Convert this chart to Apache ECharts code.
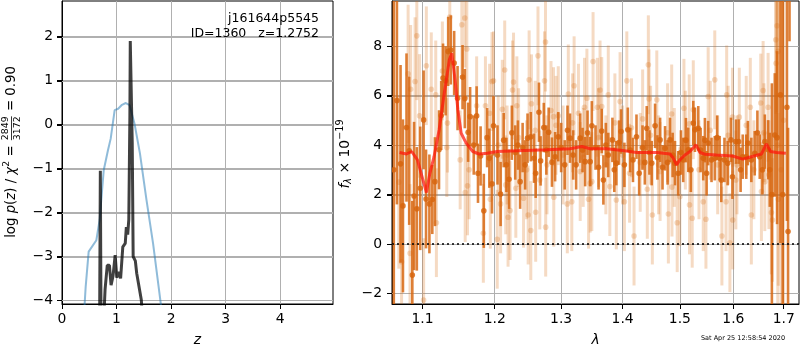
<!DOCTYPE html>
<html>
<head>
<meta charset="utf-8">
<script src="https://cdn.jsdelivr.net/npm/echarts@6/dist/echarts.min.js"></script>
<style>
  html, body { margin: 0; padding: 0; background: #fff; }
  #chart { width: 800px; height: 350px; }
</style>
</head>
<body>
<div id="chart"></div>
<script>
// left panel: log p(z)
const pzBlue = [
  [0.395, -4.5], [0.434, -3.69], [0.489, -2.89], [0.63, -2.63], [0.69, -2.17], [0.765, -1.04],
  [0.844, -0.58], [0.893, -0.32], [0.966, 0.33], [1.03, 0.36], [1.10, 0.45], [1.17, 0.49],
  [1.24, 0.44], [1.33, 0.02], [1.43, -0.66], [1.55, -1.72], [1.67, -2.70], [1.83, -4.25]
];
const pzBlack = [
  [0.690, -4.5], [0.703, -1.05], [0.716, -4.5], [0.77, -4.3], [0.79, -3.75], [0.83, -3.2],
  [0.87, -3.2], [0.90, -3.65], [0.935, -3.45], [0.975, -2.97], [1.005, -3.48], [1.045, -3.35],
  [1.075, -3.5], [1.115, -2.78], [1.16, -2.7], [1.18, -2.33], [1.205, -2.5], [1.225, -2.16],
  [1.245, 0.2], [1.252, 1.9], [1.268, 1.9], [1.288, -0.4], [1.305, -3.0], [1.345, -3.1],
  [1.37, -3.38], [1.395, -3.35], [1.455, -3.99], [1.48, -4.5]
];
const zTicks = [0, 1, 2, 3, 4];
const logpTicks = [-4, -3, -2, -1, 0, 1, 2];

// right panel: spectrum [lambda, flux, err]
const specDark = [
  [1.0625, 3.0, 10], [1.0665, 5.8, 4.2], [1.0712, 3.24, 4.0], [1.0743, 1.54, 3.5], [1.0789, 4.71, 3.0],
  [1.0824, 3.77, 3.0], [1.0865, -1.26, 3.0], [1.0888, 1.94, 3.0], [1.0924, 1.42, 2.5], [1.0969, 2.25, 2.5],
  [1.1014, 5.02, 2.0], [1.1046, 1.82, 2.0], [1.1091, 1.62, 2.0], [1.1130, 1.8, 1.4], [1.1165, 2.52, 1.8],
  [1.1220, 3.81, 1.6], [1.1250, 5.2, 1.4], [1.1275, 6.71, 1.4], [1.1310, 6.6, 1.4], [1.1345, 7.79, 1.4],
  [1.1381, 7.85, 1.4], [1.1427, 7.32, 1.3], [1.1474, 5.90, 1.3], [1.1543, 6.75, 1.3], [1.1575, 5.88, 1.2],
  [1.1621, 4.52, 1.2], [1.1649, 5.15, 1.2], [1.1700, 4.0, 1.2], [1.1741, 5.18, 1.2], [1.1760, 2.86, 1.2],
  [1.1797, 3.56, 1.2], [1.1843, 1.34, 1.5], [1.1890, 4.30, 1.2], [1.1922, 3.47, 1.2], [1.1960, 2.43, 1.2],
  [1.1982, 4.78, 1.2], [1.2040, 3.6, 1.2], [1.2085, 2.02, 1.3], [1.2130, 4.2, 1.1], [1.2170, 3.2, 1.1],
  [1.2209, 2.62, 1.2], [1.2250, 4.5, 1.1], [1.2300, 3.7, 1.1], [1.2340, 4.0, 1.0], [1.2373, 2.52, 1.1],
  [1.2410, 3.9, 1.0], [1.2448, 3.20, 1.0], [1.2484, 4.28, 1.0], [1.2533, 4.34, 1.0], [1.2582, 3.47, 1.0],
  [1.2607, 2.86, 1.0], [1.2657, 5.33, 1.2], [1.2682, 3.36, 1.0], [1.2731, 4.71, 1.0], [1.2770, 3.8, 1.0],
  [1.2806, 4.52, 1.0], [1.2857, 3.31, 1.0], [1.2906, 3.53, 1.0], [1.2955, 4.34, 1.0], [1.3000, 3.9, 1.0],
  [1.3056, 3.20, 1.0], [1.3100, 4.6, 1.0], [1.3140, 4.28, 1.0], [1.3190, 3.6, 1.0], [1.3237, 3.20, 1.0],
  [1.3302, 4.28, 1.0], [1.3340, 3.8, 0.9], [1.3382, 3.33, 1.0], [1.3420, 4.5, 0.9], [1.3463, 3.33, 1.0],
  [1.3490, 4.78, 1.0], [1.3550, 3.9, 0.9], [1.3600, 3.1, 0.9], [1.3652, 4.57, 0.9], [1.3679, 2.59, 1.0],
  [1.3720, 4.0, 0.9], [1.3760, 3.60, 0.9], [1.3829, 4.21, 0.9], [1.3860, 3.0, 0.9], [1.3894, 3.27, 0.9],
  [1.3940, 4.1, 0.9], [1.3974, 4.55, 0.9], [1.4030, 3.20, 0.9], [1.4088, 4.62, 0.9], [1.4130, 3.8, 0.9],
  [1.4176, 3.40, 0.9], [1.4236, 4.34, 0.9], [1.4282, 2.86, 0.9], [1.4340, 3.9, 0.9], [1.4380, 3.3, 0.9],
  [1.4413, 4.68, 0.9], [1.4460, 3.7, 0.9], [1.4500, 3.27, 0.9], [1.4559, 4.78, 0.9], [1.4600, 3.5, 0.9],
  [1.4647, 4.21, 0.9], [1.4690, 3.1, 0.9], [1.4735, 3.87, 0.9], [1.4780, 3.3, 0.9], [1.4824, 4.21, 0.9],
  [1.4870, 3.6, 0.9], [1.4912, 3.27, 0.9], [1.4970, 2.86, 0.9], [1.5020, 3.7, 0.9], [1.5061, 3.40, 0.9],
  [1.5110, 4.2, 0.9], [1.5153, 3.81, 0.9], [1.5200, 3.0, 0.9], [1.5245, 4.89, 0.9], [1.5276, 4.62, 0.9],
  [1.5337, 4.68, 0.9], [1.5380, 3.8, 0.9], [1.5429, 3.47, 0.9], [1.5460, 4.2, 0.9], [1.5492, 2.86, 0.9],
  [1.5521, 4.08, 0.9], [1.5584, 3.40, 0.9], [1.5645, 3.47, 0.9], [1.5690, 4.3, 0.9], [1.5737, 3.47, 0.9],
  [1.5768, 2.59, 0.9], [1.5829, 3.40, 0.9], [1.5890, 3.27, 0.9], [1.5952, 4.21, 0.9], [1.5982, 2.72, 0.9],
  [1.6048, 4.14, 0.9], [1.6101, 4.14, 0.9], [1.6140, 3.0, 0.9], [1.6181, 3.53, 0.9], [1.6250, 3.53, 0.9],
  [1.6282, 4.08, 0.9], [1.6350, 3.40, 0.9], [1.6417, 3.67, 0.9], [1.6470, 4.5, 0.9], [1.6517, 3.53, 0.9],
  [1.6570, 3.0, 1.0], [1.6618, 4.14, 1.1], [1.6684, 3.81, 1.2], [1.6718, 3.00, 1.5], [1.6760, 2.0, 4.5],
  [1.6819, 4.41, 2.5], [1.6865, 4.3, 3.5], [1.6934, 6.03, 6.0], [1.6980, 2.0, 8.0], [1.7067, 5.53, 4.6],
  [1.7090, 0.5, 4.2], [1.7120, 12.0, 3.8]
];
const specLight = [
  [1.0690, 2.5, 3.5], [1.0725, -0.72, 2.8], [1.0810, 6.88, 2.8], [1.0835, -0.38, 2.8], [1.0843, 6.26, 2.6],
  [1.0901, 6.57, 2.6], [1.0924, 8.42, 2.6], [1.0960, 5.18, 2.5], [1.1014, -2.27, 2.5], [1.1050, 7.21, 2.4],
  [1.1116, 6.26, 2.3], [1.1176, 6.03, 2.2], [1.1185, 0.86, 2.2], [1.1266, 7.00, 2.0], [1.1326, 3.90, 2.0],
  [1.1335, 4.89, 2.0], [1.1367, 9.18, 2.0], [1.1510, 3.40, 2.0], [1.1533, 8.87, 2.0], [1.1575, 9.14, 2.0],
  [1.1580, 2.08, 2.0], [1.1603, 7.89, 2.0], [1.1612, 2.35, 2.0], [1.1635, 3.00, 2.0], [1.1741, 5.59, 2.0],
  [1.1836, 0.43, 2.0], [1.1866, 5.59, 2.0], [1.1926, 5.29, 2.0], [1.1936, 1.81, 2.0], [1.1960, 6.57, 2.0],
  [1.1982, 6.60, 2.0], [1.2036, 0.19, 2.0], [1.2050, 4.0, 2.0], [1.2085, 1.62, 2.0], [1.2110, 5.45, 2.0],
  [1.2145, 7.04, 2.0], [1.2160, 2.39, 2.0], [1.2180, 3.6, 2.0], [1.2194, 1.08, 2.0], [1.2224, 1.35, 2.0],
  [1.2260, 6.23, 2.0], [1.2275, 6.55, 2.0], [1.2309, 2.25, 2.0], [1.2324, 5.59, 2.0], [1.2350, 4.3, 2.0],
  [1.2424, 1.85, 2.0], [1.2470, 3.0, 2.0], [1.2493, 1.17, 2.0], [1.2508, 6.64, 2.0], [1.2533, 0.54, 2.0],
  [1.2543, 5.67, 2.0], [1.2600, 4.6, 2.0], [1.2607, 1.28, 2.0], [1.2642, 7.61, 2.0], [1.2670, 2.59, 2.0],
  [1.2742, 6.60, 2.0], [1.2757, 8.17, 2.0], [1.2760, 0.68, 2.0], [1.2780, 3.2, 2.0], [1.2842, 5.40, 2.0],
  [1.2881, 5.15, 2.0], [1.2885, 1.89, 2.0], [1.2920, 4.8, 2.0], [1.2955, 5.19, 2.0], [1.3030, 3.6, 2.0],
  [1.3097, 1.62, 2.0], [1.3113, 6.07, 2.0], [1.3168, 1.71, 2.0], [1.3180, 4.9, 2.0], [1.3205, 6.40, 2.0],
  [1.3274, 5.29, 2.0], [1.3302, 2.93, 2.0], [1.3350, 3.5, 2.0], [1.3371, 5.53, 2.0], [1.3410, 5.90, 2.0],
  [1.3437, 1.81, 2.0], [1.3463, 2.46, 2.0], [1.3490, 2.52, 2.0], [1.3510, 7.38, 2.0], [1.3580, 5.53, 2.0],
  [1.3600, 4.3, 2.0], [1.3624, 6.23, 2.0], [1.3652, 5.56, 2.0], [1.3720, 3.2, 2.0], [1.3760, 6.03, 2.0],
  [1.3786, 2.32, 2.0], [1.3870, 4.9, 2.0], [1.3894, 1.78, 2.0], [1.3957, 5.76, 2.0], [1.4000, 3.6, 2.0],
  [1.4030, 1.71, 2.0], [1.4071, 6.60, 2.0], [1.4118, 2.86, 2.0], [1.4150, 4.7, 2.0], [1.4194, 0.32, 2.0],
  [1.4300, 3.3, 2.0], [1.4342, 5.06, 2.0], [1.4423, 2.21, 2.0], [1.4441, 7.25, 2.0], [1.4453, 5.87, 2.0],
  [1.4480, 4.4, 2.0], [1.4511, 1.17, 2.0], [1.4589, 5.83, 2.0], [1.4620, 3.2, 2.0], [1.4647, 2.93, 2.0],
  [1.4780, 4.5, 2.0], [1.4794, 1.21, 2.0], [1.4853, 5.26, 2.0], [1.4858, 2.30, 2.0], [1.4900, 3.5, 2.0],
  [1.4952, 0.86, 2.0], [1.5000, 1.91, 2.0], [1.5074, 5.49, 2.0], [1.5100, 4.2, 2.0], [1.5171, 4.86, 2.0],
  [1.5176, 1.58, 2.0], [1.5225, 1.04, 2.0], [1.5245, 5.43, 2.0], [1.5350, 3.0, 2.0], [1.5429, 1.71, 2.0],
  [1.5479, 1.00, 2.0], [1.5521, 5.96, 2.0], [1.5560, 4.6, 2.0], [1.5645, 6.64, 2.0], [1.5700, 3.2, 2.0],
  [1.5780, 0.32, 2.0], [1.5859, 1.71, 2.0], [1.5871, 6.03, 2.0], [1.5900, 4.4, 2.0], [1.5933, 0.05, 2.0],
  [1.5982, 5.13, 2.0], [1.5988, 0.97, 2.0], [1.6048, 2.59, 2.0], [1.6070, 3.2, 2.0], [1.6115, 5.13, 2.0],
  [1.6250, 4.8, 2.0], [1.6330, 5.53, 2.0], [1.6350, 1.17, 2.0], [1.6400, 3.0, 2.0], [1.6537, 5.70, 2.0],
  [1.6550, 2.12, 2.0], [1.6584, 6.21, 2.0], [1.6600, 4.5, 2.0], [1.6618, 2.52, 2.0], [1.6684, 5.53, 2.2],
  [1.6700, 2.8, 2.2], [1.6751, 1.27, 2.5], [1.6771, 0.97, 2.5], [1.6839, 8.26, 3.0], [1.6845, 7.31, 3.0],
  [1.6865, 8.83, 3.5], [1.6885, 7.79, 3.5], [1.6890, 1.81, 3.5], [1.6880, 4.0, 9], [1.6950, 3.0, 9],
  [1.7000, 5.0, 8]
];
const modelFlux = [
  [1.0699, 3.70], [1.0789, 3.64], [1.0857, 3.74], [1.0932, 3.40], [1.1005, 2.59], [1.1051, 2.08],
  [1.1097, 2.86], [1.1153, 3.53], [1.1222, 4.62], [1.1292, 6.10], [1.1361, 7.45], [1.1394, 7.72],
  [1.1440, 6.64], [1.1478, 5.43], [1.1524, 4.48], [1.1594, 4.08], [1.1686, 3.74], [1.1778, 3.64],
  [1.1890, 3.67], [1.2036, 3.74], [1.2334, 3.77], [1.2782, 3.81], [1.3140, 3.85], [1.3329, 3.94],
  [1.3463, 3.85], [1.3731, 3.85], [1.4000, 3.78], [1.4236, 3.70], [1.4589, 3.70], [1.4824, 3.64],
  [1.4882, 3.47], [1.4940, 3.20], [1.5000, 3.40], [1.5092, 3.60], [1.5184, 3.74], [1.5295, 4.01],
  [1.5368, 3.70], [1.5460, 3.63], [1.5676, 3.60], [1.5982, 3.56], [1.6181, 3.43], [1.6316, 3.51],
  [1.6550, 3.64], [1.6651, 4.05], [1.6732, 3.74], [1.6853, 3.70], [1.7045, 3.67]
];
const lamTicks = [1.1, 1.2, 1.3, 1.4, 1.5, 1.6, 1.7];
const fluxTicks = [-2, 0, 2, 4, 6, 8];

const FONT = 'DejaVu Sans';
const Y2MIN = -2.43, Y2MAX = 9.83;
const minus = v => (v < 0 ? '\u2212' + (-v) : String(v));

const ctx = document.createElement('canvas').getContext('2d');
function tw(s, size, it) {
  ctx.font = (it ? 'italic ' : '') + size + 'px "' + FONT + '"';
  return ctx.measureText(s).width;
}
// rotated mathtext-like label
function mathLabel(id, cx, cy, base, parts) {
  let w = 0;
  parts.forEach(p => {
    p.size = p.size || base;
    p.w = p.frac ? Math.max(tw(p.num, p.size), tw(p.den, p.size)) + 2 : tw(p.t, p.size, p.it);
    w += p.w;
  });
  let x = -w / 2;
  const kids = [];
  const ts = (text, p, extra) => Object.assign({
    text: text, fontSize: p.size, fontFamily: FONT, fontStyle: p.it ? 'italic' : 'normal',
    fill: '#000', verticalAlign: 'middle', textVerticalAlign: 'middle'
  }, extra);
  parts.forEach(p => {
    if (p.frac) {
      const mid = x + p.w / 2;
      kids.push({ type: 'text', x: mid, y: -6, style: ts(p.num, p, { align: 'center', textAlign: 'center' }) });
      kids.push({ type: 'text', x: mid, y: 5.5, style: ts(p.den, p, { align: 'center', textAlign: 'center' }) });
      kids.push({ type: 'line', shape: { x1: x + 1, y1: -0.5, x2: x + p.w - 1, y2: -0.5 }, style: { stroke: '#000', lineWidth: 0.8 } });
    } else {
      kids.push({ type: 'text', x: x, y: p.dy || 0, style: ts(p.t, p, { align: 'left', textAlign: 'left' }) });
    }
    x += p.w;
  });
  return { type: 'group', id: id, x: cx, y: cy, rotation: Math.PI / 2, children: kids };
}

function errRender(color, lw, r) {
  return function (params, api) {
    const x = api.value(0), f = api.value(1), e = api.value(2);
    const lo = Math.max(f - e, Y2MIN), hi = Math.min(f + e, Y2MAX);
    const kids = [];
    if (hi > lo) {
      const p0 = api.coord([x, lo]), p1 = api.coord([x, hi]);
      kids.push({ type: 'line', shape: { x1: p0[0], y1: p0[1], x2: p1[0], y2: p1[1] }, style: { stroke: color, lineWidth: lw } });
    }
    if (f >= Y2MIN && f <= Y2MAX) {
      const c = api.coord([x, f]);
      kids.push({ type: 'circle', shape: { cx: c[0], cy: c[1], r: r }, style: { fill: color } });
    }
    return { type: 'group', children: kids };
  };
}
// one horizontal grid line per tick value, placed with the axis scale
function gridRender(params, api) {
  const cs = params.coordSys;
  const y = Math.round(api.coord([api.value(0), api.value(1)])[1]) + 0.5;
  return { type: 'line', shape: { x1: cs.x, y1: y, x2: cs.x + cs.width, y2: y },
    style: { stroke: '#b0b0b0', lineWidth: 1 } };
}
const toLog = arr => arr.map(d => [Math.log(d[0]), d[1], d[2]]);

const axisCommon = {
  axisLine: { show: true, onZero: false, lineStyle: { color: '#000', width: 1 } },
  axisTick: { show: true, inside: false, length: 5, lineStyle: { color: '#000', width: 1 } },
  splitLine: { show: true, lineStyle: { color: '#b0b0b0', width: 1 } },
  axisLabel: { color: '#000', fontSize: 13.9, fontFamily: FONT }
};
function ax(extra, ticks, fmt, margin) {
  const a = Object.assign({}, axisCommon, extra);
  a.axisTick = Object.assign({}, axisCommon.axisTick, { customValues: ticks.slice() });
  a.axisLabel = Object.assign({}, axisCommon.axisLabel, { customValues: ticks.slice(), formatter: fmt, margin: margin });
  return a;
}

const chart = echarts.init(document.getElementById('chart'), null, { renderer: 'canvas' });
chart.setOption({
  animation: false,
  backgroundColor: '#fff',
  grid: [
    { left: 62, top: 1, width: 271, height: 303, show: true, borderColor: '#000', borderWidth: 1,
      backgroundColor: 'transparent', outerBoundsMode: 'none', containLabel: false },
    { left: 392, top: 1, width: 407, height: 303, show: true, borderColor: '#000', borderWidth: 1,
      backgroundColor: 'transparent', outerBoundsMode: 'none', containLabel: false }
  ],
  xAxis: [
    ax({ type: 'value', gridIndex: 0, min: 0, max: 4.97, name: 'z', nameLocation: 'middle', nameGap: 29,
      nameTextStyle: { color: '#000', fontSize: 13.9, fontFamily: FONT, fontStyle: 'italic' } }, zTicks, v => String(v), 8),
    ax({ type: 'value', gridIndex: 1, min: Math.log(1.0602), max: Math.log(1.7317), name: 'λ', nameLocation: 'middle', nameGap: 29,
      nameTextStyle: { color: '#000', fontSize: 13.9, fontFamily: FONT, fontStyle: 'italic' } },
      lamTicks.map(v => Math.log(v)), v => Math.exp(v).toFixed(1), 8)
  ],
  yAxis: [
    ax({ type: 'value', gridIndex: 0, min: -4.08, max: 2.81 }, logpTicks, minus, 9),
    ax({ type: 'value', gridIndex: 1, min: Y2MIN, max: Y2MAX }, fluxTicks, minus, 10)
  ],
  series: [
    { type: 'custom', xAxisIndex: 0, yAxisIndex: 0, data: logpTicks.map(v => [2, v]), renderItem: gridRender,
      encode: { x: 0, y: 1 }, silent: true, z: 1 },
    { type: 'custom', xAxisIndex: 1, yAxisIndex: 1, data: fluxTicks.map(v => [Math.log(1.4), v]), renderItem: gridRender,
      encode: { x: 0, y: 1 }, silent: true, z: 1 },
    { type: 'line', xAxisIndex: 0, yAxisIndex: 0, data: pzBlue, showSymbol: false, clip: true,
      lineStyle: { color: 'rgba(31,119,180,0.5)', width: 2 }, z: 2 },
    { type: 'line', xAxisIndex: 0, yAxisIndex: 0, data: pzBlack, showSymbol: false, clip: true,
      lineStyle: { color: 'rgba(0,0,0,0.75)', width: 3 }, z: 3 },
    { type: 'custom', xAxisIndex: 1, yAxisIndex: 1, data: toLog(specLight), renderItem: errRender('rgba(217,107,15,0.25)', 3, 2.8),
      encode: { x: 0, y: 1 }, clip: true, z: 2 },
    { type: 'custom', xAxisIndex: 1, yAxisIndex: 1, data: toLog(specDark), renderItem: errRender('rgba(215,100,12,0.82)', 2.6, 2.8),
      encode: { x: 0, y: 1 }, clip: true, z: 3 },
    { type: 'line', xAxisIndex: 1, yAxisIndex: 1, data: modelFlux.map(d => [Math.log(d[0]), d[1]]), showSymbol: false,
      lineStyle: { color: 'rgba(255,20,10,0.72)', width: 3 }, z: 4,
      markLine: { silent: true, symbol: 'none', label: { show: false }, data: [{ yAxis: 0 }],
        lineStyle: { color: '#000', type: [2, 3], width: 1.6 } } }
  ],
  graphic: [
    { type: 'text', id: 't1', x: 319, y: 19, style: { text: 'j161644p5545', fontSize: 12.5, fontFamily: FONT, fill: '#000',
      align: 'right', textAlign: 'right', verticalAlign: 'middle', textVerticalAlign: 'middle' }, z: 10 },
    { type: 'text', id: 't2', x: 319, y: 34, style: { text: 'ID=1360   z=1.2752', fontSize: 12.5, fontFamily: FONT, fill: '#000',
      align: 'right', textAlign: 'right', verticalAlign: 'middle', textVerticalAlign: 'middle' }, z: 10 },
    { type: 'text', id: 't3', x: 743, y: 338, style: { text: 'Sat Apr 25 12:58:54 2020', fontSize: 6.5, fontFamily: FONT, fill: '#000',
      align: 'center', textAlign: 'center', verticalAlign: 'middle', textVerticalAlign: 'middle' } },
    mathLabel('yl1', 12, 152, 13.3, [
      { t: 'log ' }, { t: 'p', it: true }, { t: '(' }, { t: 'z', it: true }, { t: ') / ' }, { t: 'χ', it: true },
      { t: '2', size: 9.4, dy: -5 }, { t: ' = ' }, { frac: true, num: '2849', den: '3172', size: 9.4 }, { t: ' = 0.90' }
    ]),
    mathLabel('yl2', 345, 154, 13.9, [
      { t: 'f', it: true }, { t: 'λ', it: true, size: 9.7, dy: 3.5 }, { t: ' × 10' }, { t: '\u221219', size: 9.7, dy: -5 }
    ])
  ]
});

// outward y ticks, placed through the axes' own scales
const ticksG = [];
[[0, logpTicks, 62], [1, fluxTicks, 392]].forEach(([yi, ticks, xl]) => {
  ticks.forEach((v, k) => {
    const py = Math.round(chart.convertToPixel({ yAxisIndex: yi }, v)) + 0.5;
    ticksG.push({ type: 'line', id: 'yt' + yi + '_' + k, shape: { x1: xl - 5, y1: py, x2: xl, y2: py },
      style: { stroke: '#000', lineWidth: 1 }, z: 10 });
  });
});
chart.setOption({ graphic: ticksG });
</script>
</body>
</html>
